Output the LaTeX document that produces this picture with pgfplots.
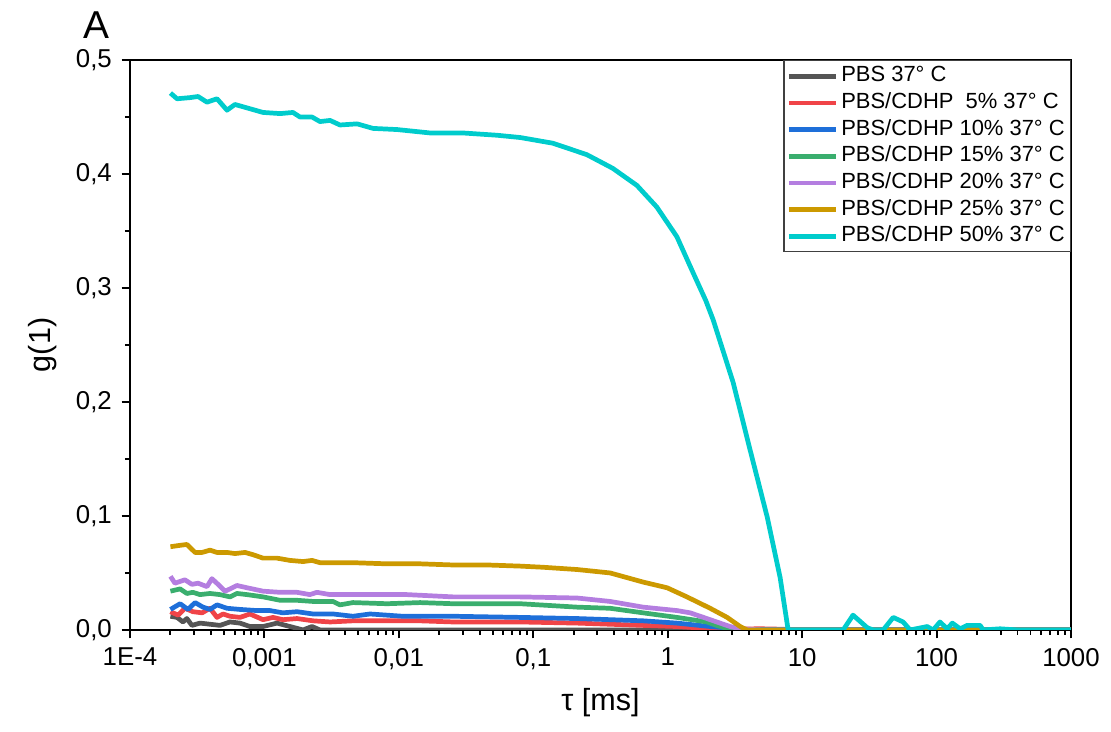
\documentclass[border=0pt]{standalone}
\usepackage{fontspec}
\setmainfont{Liberation Sans}
\usepackage{pgfplots}
\pgfplotsset{compat=1.18}
\definecolor{cgray}{HTML}{555555}
\definecolor{cred}{HTML}{F04448}
\definecolor{cblue}{HTML}{1E6FD9}
\definecolor{cgreen}{HTML}{3AAE6E}
\definecolor{cpurple}{HTML}{B47EE0}
\definecolor{cgold}{HTML}{CC9900}
\definecolor{ccyan}{HTML}{00CCCC}
\begin{document}
\begin{tikzpicture}
\path[use as bounding box] (-46.8pt,-36.4pt) rectangle (353.2pt,226.8pt);
\begin{axis}[
  at={(0,0)}, anchor=south west,
  scale only axis, width=338.8pt, height=205.2pt,
  xmode=log, log basis x=10,
  xmin=1e-4, xmax=1000, ymin=0, ymax=0.5,
  axis line style={line width=0.8pt},
  tick align=outside, xtick pos=bottom, ytick pos=left,
  major tick length=3pt, minor tick length=1.8pt,
  every tick/.style={black, line width=0.7pt},
  xtick={1e-4,1e-3,0.01,0.1,1,10,100,1000},
  xticklabels={1E-4,{0,001},{0,01},{0,1},1,10,100,1000},
  minor xtick={2e-4,3e-4,4e-4,5e-4,6e-4,7e-4,8e-4,9e-4,
    2e-3,3e-3,4e-3,5e-3,6e-3,7e-3,8e-3,9e-3,
    0.02,0.03,0.04,0.05,0.06,0.07,0.08,0.09,
    0.2,0.3,0.4,0.5,0.6,0.7,0.8,0.9,
    2,3,4,5,6,7,8,9,20,30,40,50,60,70,80,90,
    200,300,400,500,600,700,800,900},
  ytick={0,0.1,0.2,0.3,0.4,0.5},
  minor ytick={0.05,0.15,0.25,0.35,0.45},
  yticklabel style={/pgf/number format/.cd, fixed, fixed zerofill, precision=1, use comma},
  /pgf/number format/assume math mode=true,
  tick label style={font=\fontsize{9.3}{11}\selectfont},
  xlabel={τ [ms]}, ylabel={g(1)},
  label style={font=\fontsize{11}{13}\selectfont},
  legend style={at={(rel axis cs:1,1)}, anchor=north east, draw=darkgray, line width=0.5pt,
    font=\fontsize{7.9}{9}\selectfont, cells={anchor=west}, row sep=0.4pt,
    inner xsep=1pt, inner ysep=1pt,
    nodes={inner sep=1pt, text height=5.6pt, text depth=1.6pt}},
  legend image code/.code={\draw[#1] (0pt,0pt) -- (17pt,0pt);},
  legend cell align=left,
  every axis plot/.append style={line width=1.7pt, line join=round},
]
\addplot[cgray] coordinates {
(2.0e-4,0.012) (2.24e-4,0.011) (2.48e-4,0.007) (2.65e-4,0.010) (2.89e-4,0.004)
(3.32e-4,0.006) (3.94e-4,0.005) (4.67e-4,0.004) (5.55e-4,0.007) (6.58e-4,0.006)
(7.81e-4,0.003) (9.77e-4,0.003) (1.24e-3,0.006) (1.55e-3,0.003) (1.94e-3,0.000)
(2.26e-3,0.003) (2.59e-3,0.0) (0.01,0.0) (0.1,0) (1,0) (10,0) (100,0) (1000,0)};
\addlegendentry{PBS 37° C}
\addplot[cred] coordinates {
(2.0e-4,0.016) (2.28e-4,0.013) (2.56e-4,0.019) (2.94e-4,0.016) (3.44e-4,0.015)
(3.94e-4,0.019) (4.44e-4,0.011) (4.92e-4,0.014) (5.55e-4,0.012) (6.58e-4,0.011)
(7.81e-4,0.014) (9.77e-4,0.009) (1.16e-3,0.011) (1.37e-3,0.009) (1.75e-3,0.010)
(2.30e-3,0.008) (3.08e-3,0.007) (4.56e-3,0.008) (8.17e-3,0.008) (1.44e-2,0.008)
(2.53e-2,0.007) (7.98e-2,0.007) (0.212,0.006) (0.373,0.005) (0.656,0.004)
(1.17,0.003) (2.07,0.0012) (3,0.0008) (5,0.001) (8,0.0005) (10,0) (100,0) (1000,0)};
\addlegendentry{PBS/CDHP\ \ 5\% 37° C}
\addplot[cblue] coordinates {
(2.0e-4,0.018) (2.36e-4,0.023) (2.70e-4,0.018) (3.05e-4,0.024) (3.49e-4,0.020)
(3.94e-4,0.018) (4.44e-4,0.022) (5.27e-4,0.019) (6.58e-4,0.018) (8.81e-4,0.017)
(1.10e-3,0.017) (1.37e-3,0.015) (1.75e-3,0.016) (2.30e-3,0.014) (3.24e-3,0.014)
(4.56e-3,0.012) (6.11e-3,0.014) (1.07e-2,0.012) (2.53e-2,0.012) (7.98e-2,0.011)
(0.212,0.010) (0.373,0.009) (0.656,0.008) (1.17,0.006) (2.07,0.003) (2.58,0.002)
(3.77,0.0005) (10,0.0004) (100,0.0004) (1000,0.0004)};
\addlegendentry{PBS/CDHP 10\% 37° C}
\addplot[cgreen] coordinates {
(2.0e-4,0.034) (2.36e-4,0.036) (2.65e-4,0.032) (2.94e-4,0.033) (3.32e-4,0.031)
(3.94e-4,0.032) (4.67e-4,0.031) (5.55e-4,0.029) (6.25e-4,0.032) (7.43e-4,0.031)
(9.77e-4,0.029) (1.31e-3,0.026) (1.75e-3,0.026) (2.30e-3,0.025) (3.24e-3,0.025)
(3.65e-3,0.022) (4.56e-3,0.024) (8.17e-3,0.023) (1.44e-2,0.024) (2.53e-2,0.023)
(7.98e-2,0.023) (0.212,0.020) (0.373,0.019) (0.656,0.015) (1.17,0.011)
(1.96,0.007) (2.3,0.004) (2.91,0.0005) (4,0) (10,0) (1000,0)};
\addlegendentry{PBS/CDHP 15\% 37° C}
\addplot[cpurple] coordinates {
(2.0e-4,0.047) (2.16e-4,0.041) (2.56e-4,0.044) (2.89e-4,0.040) (3.21e-4,0.041)
(3.74e-4,0.038) (4.07e-4,0.045) (4.52e-4,0.040) (5.09e-4,0.034) (5.55e-4,0.036)
(6.25e-4,0.039) (7.43e-4,0.037) (9.77e-4,0.034) (1.31e-3,0.033) (1.75e-3,0.033)
(2.18e-3,0.031) (2.46e-3,0.033) (3.08e-3,0.031) (3.65e-3,0.031) (6.11e-3,0.031)
(1.15e-2,0.031) (2.53e-2,0.029) (7.98e-2,0.029) (0.212,0.028) (0.373,0.025)
(0.656,0.020) (1.17,0.017) (1.47,0.015) (2.07,0.009) (2.91,0.003) (3.46,0.001)
(5,0) (10,0) (1000,0)};
\addlegendentry{PBS/CDHP 20\% 37° C}
\addplot[cgold] coordinates {
(2.0e-4,0.073) (2.28e-4,0.074) (2.65e-4,0.075) (3.05e-4,0.068) (3.44e-4,0.068)
(3.94e-4,0.070) (4.44e-4,0.068) (5.27e-4,0.068) (6.04e-4,0.067) (7.18e-4,0.068)
(8.23e-4,0.066) (9.77e-4,0.063) (1.24e-3,0.063) (1.55e-3,0.061) (1.94e-3,0.060)
(2.26e-3,0.061) (2.59e-3,0.059) (4.56e-3,0.059) (8.17e-3,0.058) (1.44e-2,0.058)
(2.53e-2,0.057) (4.53e-2,0.057) (7.98e-2,0.056) (0.118,0.055) (0.212,0.053)
(0.373,0.050) (0.656,0.042) (0.99,0.037) (1.39,0.029) (2.07,0.019) (2.77,0.011)
(3.46,0.003) (3.90,0.0) (10,0) (1000,0)};
\addlegendentry{PBS/CDHP 25\% 37° C}
\addplot[ccyan] coordinates {
(2.0e-4,0.471) (2.24e-4,0.466) (2.79e-4,0.467) (3.21e-4,0.468) (3.74e-4,0.463)
(4.44e-4,0.466) (5.27e-4,0.456) (6.04e-4,0.461) (9.77e-4,0.454) (1.31e-3,0.453)
(1.63e-3,0.454) (1.84e-3,0.450) (2.26e-3,0.450) (2.59e-3,0.446) (3.08e-3,0.447)
(3.65e-3,0.443) (4.89e-3,0.444) (6.43e-3,0.440) (9.7e-3,0.439) (1.71e-2,0.436)
(3.0e-2,0.436) (5.38e-2,0.434) (0.08,0.432) (0.14,0.427) (0.25,0.417)
(0.39,0.405) (0.59,0.390) (0.83,0.371) (1.17,0.345) (1.55,0.313) (1.92,0.289)
(2.18,0.272) (3.07,0.217) (4.1,0.158) (5.5,0.099) (6.86,0.046) (7.87,0.0)
(10,0) (15,0) (20.2,0) (23.9,0.013) (30.5,0.002) (33.7,0) (40.1,0) (47.6,0.011)
(56.4,0.007) (63.6,0) (85.2,0.003) (94.4,0) (106,0.007) (120,0.001) (131,0.006)
(150,0.001) (169,0.004) (211,0.004) (222,0) (297,0.001) (398,0) (1000,0)};
\addlegendentry{PBS/CDHP 50\% 37° C}
\end{axis}
\node[font=\fontsize{14}{16}\selectfont, anchor=base] at (-11.9pt,213.1pt) {A};
\end{tikzpicture}
\end{document}
